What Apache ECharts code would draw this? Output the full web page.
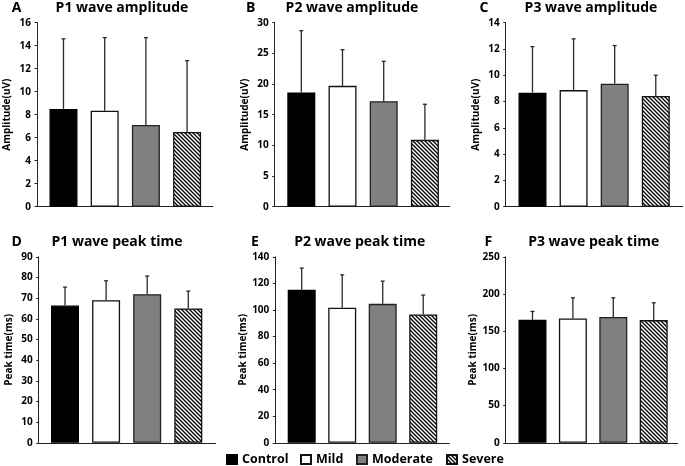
<!DOCTYPE html>
<html>
<head>
<meta charset="utf-8">
<script src="https://cdn.jsdelivr.net/npm/echarts@6/dist/echarts.min.js"></script>
<style>
html,body{margin:0;padding:0;background:#fff;}
#chart{width:685px;height:466px;}
</style>
</head>
<body>
<div id="chart"></div>
<script>
// ---------- data ----------
const groups = ['Control', 'Mild', 'Moderate', 'Severe'];

const p1AmpMean = [8.5, 8.35, 7.1, 6.5];
const p1AmpSD   = [6.1, 6.35, 7.6, 6.2];
const p2AmpMean = [18.6, 19.7, 17.2, 10.9];
const p2AmpSD   = [10.1, 5.9, 6.5, 5.8];
const p3AmpMean = [8.67, 8.87, 9.36, 8.42];
const p3AmpSD   = [3.51, 3.9, 2.9, 1.58];
const p1TimeMean = [66.4, 69.0, 71.9, 65.0];
const p1TimeSD   = [8.9, 9.4, 8.8, 8.4];
const p2TimeMean = [115.2, 101.6, 104.6, 96.6];
const p2TimeSD   = [16.3, 24.8, 17.1, 14.6];
const p3TimeMean = [165.3, 167.2, 169.0, 164.9];
const p3TimeSD   = [11.3, 27.7, 25.9, 23.3];

const panelLetters = ['A', 'B', 'C', 'D', 'E', 'F'];
const panelTitles = ['P1 wave amplitude', 'P2 wave amplitude', 'P3 wave amplitude',
                     'P1 wave peak time', 'P2 wave peak time', 'P3 wave peak time'];
const yNames = ['Amplitude(uV)', 'Amplitude(uV)', 'Amplitude(uV)',
                'Peak time(ms)', 'Peak time(ms)', 'Peak time(ms)'];
const yMaxes = [16, 30, 14, 90, 140, 250];
const yIntervals = [2, 5, 2, 10, 20, 50];
const means = [p1AmpMean, p2AmpMean, p3AmpMean, p1TimeMean, p2TimeMean, p3TimeMean];
const sds = [p1AmpSD, p2AmpSD, p3AmpSD, p1TimeSD, p2TimeSD, p3TimeSD];

// ---------- layout ----------
const layout = [
  {left: 37,    top: 22.7,  width: 176, height: 184, xMin: -0.643, xMax: 3.629, titleX: 122,   titleY: 8,     letterX: 11.7},
  {left: 274.7, top: 22.7,  width: 175, height: 184, xMin: -0.646, xMax: 3.602, titleX: 352,   titleY: 8,     letterX: 246},
  {left: 505.7, top: 22.7,  width: 177, height: 184, xMin: -0.652, xMax: 3.655, titleX: 591,   titleY: 8,     letterX: 479.5},
  {left: 38.7,  top: 256.8, width: 177, height: 186, xMin: -0.640, xMax: 3.667, titleX: 117,   titleY: 242.5, letterX: 11.5},
  {left: 275.3, top: 256.8, width: 174, height: 186, xMin: -0.652, xMax: 3.644, titleX: 359.7, titleY: 242.5, letterX: 251},
  {left: 505.7, top: 256.8, width: 172, height: 186, xMin: -0.663, xMax: 3.594, titleX: 593.7, titleY: 242.5, letterX: 484.5}
];
const legendLefts = [226, 300, 356, 446];

// hatch pattern
function makeHatch() {
  const c = document.createElement('canvas');
  c.width = 4; c.height = 4;
  const ctx = c.getContext('2d');
  ctx.fillStyle = '#fff';
  ctx.fillRect(0, 0, 4, 4);
  ctx.strokeStyle = '#000';
  ctx.lineWidth = 1.3;
  ctx.beginPath();
  ctx.moveTo(-1, -1); ctx.lineTo(5, 5);
  ctx.moveTo(-2, 2); ctx.lineTo(2, 6);
  ctx.moveTo(2, -2); ctx.lineTo(6, 2);
  ctx.stroke();
  return c;
}
const hatch = makeHatch();

const groupStyles = [
  {color: '#000000', borderColor: '#000000', borderWidth: 1.3},
  {color: '#ffffff', borderColor: '#111111', borderWidth: 1.3},
  {color: '#808080', borderColor: '#222222', borderWidth: 1.3},
  {color: {image: hatch, repeat: 'repeat'}, borderColor: '#111111', borderWidth: 1.3}
];

const FONT = '"Open Sans", "Noto Sans", "DejaVu Sans", sans-serif';

const grids = [], xAxes = [], yAxes = [], series = [], graphics = [];

layout.forEach((L, p) => {
  grids.push({left: L.left, top: L.top, width: L.width, height: L.height, containLabel: false});
  xAxes.push({
    gridIndex: p, type: 'value', min: L.xMin, max: L.xMax,
    axisLine: {show: true, onZero: false, lineStyle: {color: '#222', width: 1}},
    axisTick: {show: false}, axisLabel: {show: false}, splitLine: {show: false}
  });
  yAxes.push({
    gridIndex: p, type: 'value', min: 0, max: yMaxes[p], interval: yIntervals[p],
    name: yNames[p], nameLocation: 'middle', nameGap: 25, nameRotate: 90,
    nameTextStyle: {fontFamily: FONT, fontWeight: 'bold', fontSize: 10, color: '#000'},
    axisLine: {show: true, onZero: false, lineStyle: {color: '#222', width: 1}},
    axisTick: {show: true, length: 2.5, inside: false, lineStyle: {color: '#222', width: 1}},
    axisLabel: {fontFamily: FONT, fontWeight: 'bold', fontSize: 10, color: '#000', margin: 6},
    splitLine: {show: false}
  });
  groups.forEach((g, i) => {
    series.push({
      name: g, type: 'bar', xAxisIndex: p, yAxisIndex: p,
      barWidth: 28, barGap: '-100%',
      itemStyle: groupStyles[i],
      data: [[i, means[p][i]]],
      silent: true, animation: false
    });
  });
  series.push({
    name: 'err' + p, type: 'custom', xAxisIndex: p, yAxisIndex: p, z: 5,
    encode: {x: 0, y: [1, 2]},
    data: groups.map((g, i) => [i, means[p][i], means[p][i] + sds[p][i]]),
    renderItem: function (params, api) {
      const x = api.value(0), m = api.value(1), t = api.value(2);
      const a = api.coord([x, m]), b = api.coord([x, t]);
      const st = {stroke: '#2a2a2a', lineWidth: 1.3};
      return {type: 'group', children: [
        {type: 'line', shape: {x1: a[0], y1: a[1], x2: b[0], y2: b[1]}, style: st},
        {type: 'line', shape: {x1: b[0] - 2, y1: b[1], x2: b[0] + 2, y2: b[1]}, style: st}
      ]};
    },
    silent: true, animation: false
  });
  graphics.push({
    type: 'text', x: L.letterX, y: L.titleY,
    style: {text: panelLetters[p], font: 'bold 14px ' + FONT, fill: '#000', textVerticalAlign: 'middle', textAlign: 'left'}
  });
  graphics.push({
    type: 'text', x: L.titleX, y: L.titleY,
    style: {text: panelTitles[p], font: 'bold 14px ' + FONT, fill: '#000', textVerticalAlign: 'middle', textAlign: 'center'}
  });
});

const legends = groups.map((g, i) => ({
  data: [g], left: legendLefts[i], top: 453, padding: 0,
  icon: 'rect', itemWidth: 10, itemHeight: 9,
  textStyle: {fontFamily: FONT, fontWeight: 'bold', fontSize: 12.5, color: '#000'},
  selectedMode: false
}));

const chart = echarts.init(document.getElementById('chart'), null, {renderer: 'canvas'});
chart.setOption({
  animation: false,
  backgroundColor: '#ffffff',
  grid: grids, xAxis: xAxes, yAxis: yAxes, series: series,
  graphic: graphics,
  legend: legends
});
</script>
</body>
</html>
